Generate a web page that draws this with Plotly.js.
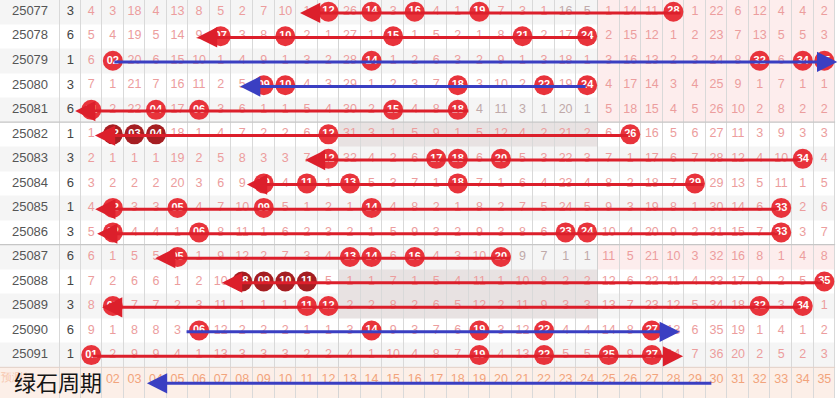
<!DOCTYPE html>
<html><head><meta charset="utf-8">
<script src="https://cdn.plot.ly/plotly-3.0.1.min.js"></script>
<style>html,body{margin:0;padding:0;background:#fff}#chart{width:838px;height:398px}</style>
</head><body><div id="chart"></div>
<script>
const issues = ['25077','25078','25079','25080','25081','25082','25083','25084','25085','25086','25087','25088','25089','25090','25091'];
const cycleVals = [3,6,1,3,6,1,3,6,1,3,6,1,3,6,1];
const omission = [
 [4,3,18,4,13,8,5,2,7,10,1,0,26,0,3,0,4,1,0,7,3,1,16,5,1,14,11,0,1,22,6,12,4,4,2],
 [5,4,19,5,14,9,0,3,8,0,2,1,27,1,0,1,5,2,1,8,0,2,17,0,2,15,12,1,2,23,7,13,5,5,3],
 [6,0,20,6,15,10,1,4,9,1,3,2,28,0,1,2,6,3,2,9,1,3,18,1,3,16,13,2,3,24,8,0,6,0,0],
 [7,1,21,7,16,11,2,5,0,0,4,3,29,1,2,3,7,0,3,10,2,0,19,0,4,17,14,3,4,25,9,1,7,1,1],
 [0,2,22,0,17,0,3,6,1,1,5,4,30,2,0,4,8,0,4,11,3,1,20,1,5,18,15,4,5,26,10,2,8,2,2],
 [1,0,0,0,18,1,4,7,2,2,6,0,31,3,1,5,9,1,5,12,4,2,21,2,6,0,16,5,6,27,11,3,9,3,3],
 [2,1,1,1,19,2,5,8,3,3,7,0,32,4,2,6,0,0,6,0,5,3,22,3,7,1,17,6,7,28,12,4,10,0,4],
 [3,2,2,2,20,3,6,9,0,4,0,1,0,5,3,7,1,0,7,1,6,4,23,4,8,2,18,7,0,29,13,5,11,1,5],
 [4,0,3,3,0,4,7,10,0,5,1,2,1,0,4,8,2,1,8,2,7,5,24,5,9,3,19,8,1,30,14,6,0,2,6],
 [5,0,4,4,1,0,8,11,1,6,2,3,2,1,5,9,3,2,9,3,8,6,0,0,10,4,20,9,2,31,15,7,0,3,7],
 [6,1,5,5,0,1,9,12,2,7,3,4,0,0,6,0,4,3,10,0,9,7,1,1,11,5,21,10,3,32,16,8,1,4,8],
 [7,2,6,6,1,2,10,0,0,0,0,5,1,1,7,1,5,4,11,1,10,8,2,2,12,6,22,11,4,33,17,9,2,5,0],
 [8,0,7,7,2,3,11,1,1,1,0,0,2,2,8,2,6,5,12,2,11,9,3,3,13,7,23,12,5,34,18,0,3,0,1],
 [9,1,8,8,3,0,12,2,2,2,1,1,3,0,9,3,7,6,0,3,12,0,4,4,14,8,0,13,6,35,19,1,4,1,2],
 [0,2,9,9,4,1,13,3,3,3,2,2,4,1,10,4,8,7,0,4,13,0,5,5,0,9,0,14,7,36,20,2,5,2,3]
];
const draws = [
 [12,14,16,19,28],[7,10,15,21,24],[2,14,32,34,35],[9,10,18,22,24],[1,4,6,15,18],
 [2,3,4,12,26],[12,17,18,20,34],[9,11,13,18,29],[2,5,9,14,33],[2,6,23,24,33],
 [5,13,14,16,20],[8,9,10,11,35],[2,11,12,32,34],[6,14,19,22,27],[1,19,22,25,27]
];
const darkIssues = ['25082','25088'];
const darkNumbers = [[2,3,4],[8,9,10,11]];
const numberLabels = ['01','02','03','04','05','06','07','08','09','10','11','12','13','14','15','16','17','18','19','20','21','22','23','24','25','26','27','28','29','30','31','32','33','34','35'];
const pinkRows = ['25077','25078','25079','25080','25081','25087'];
const shadeRows = ['25082','25088','25089'];
const grayTextIssues = ['25077','25077','25081','25081','25081','25081','25081','25081','25087','25087','25087','25087'];
const grayTextCols = [23,24,19,20,21,22,23,24,21,22,23,24];
const arrowIssues = ['25077','25078','25079','25080','25081','25082','25083','25084','25085','25086','25087','25088','25089','25090','25091','footer'];
const arrowTail = [28.4,24.2,2.0,24.0,18.56,25.98,33.96,29.46,32.95,32.95,20.5,35.0,33.96,5.35,0.99,29.83];
const arrowTip = [10.68,5.9,35.6,7.9,0.25,1.17,10.91,8.22,1.18,1.27,3.96,7.06,1.5,28.3,28.45,3.58];
const arrowColors = ['red','red','blue','blue','red','red','red','red','red','red','red','red','red','blue','red','blue'];
const footerTitle = '绿石周期';
const footerLabel = '预测行';

const nRows = issues.length;
const footerRow = nRows;
const labelEdges = [-3.234, -0.451];
const xEdges = labelEdges.concat(Array.from({length: 36}, (_, k) => k + 0.5)).concat([35.7]);
const yEdges = Array.from({length: nRows + 1}, (_, i) => i - 0.5).concat([15.8]);

const z = [];
for (let i = 0; i <= nRows; i++) {
  const row = [];
  for (let c = 0; c < xEdges.length - 1; c++) {
    if (c === xEdges.length - 2) { row.push(0); continue; }
    if (i === footerRow) { row.push(4); continue; }
    let v = (i % 2 === 0) ? 1 : 0;
    const col = c - 1;
    if (c >= 2) {
      if (pinkRows.includes(issues[i]) && col >= 25) v = 2;
      if (shadeRows.includes(issues[i]) && col >= 13 && col <= 24) v = 3;
    }
    row.push(v);
  }
  z.push(row);
}
const bg = {
  type: 'heatmap', x: xEdges, y: yEdges, z: z, zmin: 0, zmax: 4, showscale: false,
  xgap: 1, ygap: 0, hoverinfo: 'skip',
  colorscale: [[0,'#ffffff'],[0.125,'#ffffff'],[0.125,'#f5f5f5'],[0.375,'#f5f5f5'],
    [0.375,'#fdeded'],[0.625,'#fdeded'],[0.625,'#e8e2e2'],[0.875,'#e8e2e2'],[0.875,'#fcefe8'],[1,'#fcefe8']]
};

const labelX = (labelEdges[0] + labelEdges[1]) / 2;
const cycleX = (labelEdges[1] + 0.5) / 2;
const font = 'Liberation Sans, Arial, sans-serif';

const issueTrace = {type:'scatter', mode:'text', x: issues.map(() => labelX), y: issues.map((_, i) => i),
  text: issues, textfont: {family: font, size: 13, color: '#555'}, hoverinfo: 'skip'};
const cycleTrace = {type:'scatter', mode:'text', x: cycleVals.map(() => cycleX), y: cycleVals.map((_, i) => i),
  text: cycleVals.map(String), textfont: {family: font, size: 13, color: '#444'}, hoverinfo: 'skip'};

const ox = [], oy = [], ot = [], oc = [];
omission.forEach((row, i) => row.forEach((v, k) => {
  const col = k + 1;
  if (draws[i].includes(col)) return;
  ox.push(col); oy.push(i); ot.push(String(v));
  let gray = false;
  grayTextIssues.forEach((iss, j) => { if (iss === issues[i] && grayTextCols[j] === col) gray = true; });
  oc.push(gray ? '#bfa9a9' : '#ec9d9d');
}));
const omitTrace = {type:'scatter', mode:'text', x: ox, y: oy, text: ot,
  textfont: {family: font, size: 12.5, color: oc}, hoverinfo: 'skip'};

const bx = [], by = [], bt = [], bc = [];
draws.forEach((d, i) => d.forEach(n => {
  bx.push(n); by.push(i); bt.push(numberLabels[n - 1]);
  const di = darkIssues.indexOf(issues[i]);
  bc.push(di >= 0 && darkNumbers[di].includes(n) ? '#a51e22' : '#e8333b');
}));
const ballTrace = {type:'scatter', mode:'markers+text', x: bx, y: by, text: bt,
  marker: {size: 20, color: bc, line: {width: 0}},
  textfont: {family: font, size: 11, color: '#ffffff', weight: 'bold'}, hoverinfo: 'skip'};

// the footer's first label sits under the title text in the reference, so labels are drawn from 02 on
const footLabels = numberLabels.slice(1);
const footTrace = {type:'scatter', mode:'text', x: footLabels.map((_, k) => k + 2), y: footLabels.map(() => footerRow),
  text: footLabels, textfont: {family: font, size: 12.5, color: '#f2a47c'}, hoverinfo: 'skip'};
const footLabelTrace = {type:'scatter', mode:'text', x: [labelX - 0.6], y: [footerRow - 0.05], text: [footerLabel],
  textfont: {family: font, size: 11, color: '#f7c8b0'}, hoverinfo: 'skip'};

const annotations = arrowIssues.map((iss, j) => {
  const y = iss === 'footer' ? footerRow + 0.15 : issues.indexOf(iss) + 0.05;
  return {x: arrowTip[j], y: y, ax: arrowTail[j], ay: y, xref: 'x', yref: 'y', axref: 'x', ayref: 'y',
    text: '', showarrow: true, arrowhead: 2, arrowsize: 1.35, arrowwidth: 3, standoff: 0,
    arrowcolor: arrowColors[j] === 'blue' ? '#3a3fc2' : '#dc1f2b'};
});
annotations.push({x: -0.55, y: footerRow + 0.05, xref: 'x', yref: 'y', text: footerTitle, showarrow: false,
  font: {family: 'Noto Sans CJK SC, sans-serif', size: 22, color: '#151515'}});

const shapes = [];
[12.5, 24.5].forEach(xv => shapes.push({type:'line', xref:'x', yref:'y', x0: xv, x1: xv, y0: -0.5, y1: 15.8, line: {color:'#c9c9c9', width: 1}, layer: 'below'}));
[4.5, 9.5].forEach(yv => shapes.push({type:'line', xref:'x', yref:'y', x0: -3.3, x1: 35.5, y0: yv, y1: yv, line: {color:'#c6c6c6', width: 1.2}}));
shapes.push({type:'line', xref:'x', yref:'y', x0: -3.3, x1: 35.5, y0: 14.5, y1: 14.5, line: {color:'#e3cfc6', width: 1}});

const layout = {
  width: 838, height: 398, margin: {l:0, r:0, t:0, b:0}, showlegend: false,
  paper_bgcolor: '#ffffff', plot_bgcolor: '#d9d9d9',
  xaxis: {range: [-3.234, 35.634], showgrid: false, zeroline: false, showticklabels: false, fixedrange: true},
  yaxis: {range: [15.75, -0.477], showgrid: false, zeroline: false, showticklabels: false, fixedrange: true},
  annotations: annotations, shapes: shapes
};
Plotly.newPlot('chart', [bg, issueTrace, cycleTrace, omitTrace, footTrace, footLabelTrace, ballTrace], layout, {staticPlot: true});
</script></body></html>
